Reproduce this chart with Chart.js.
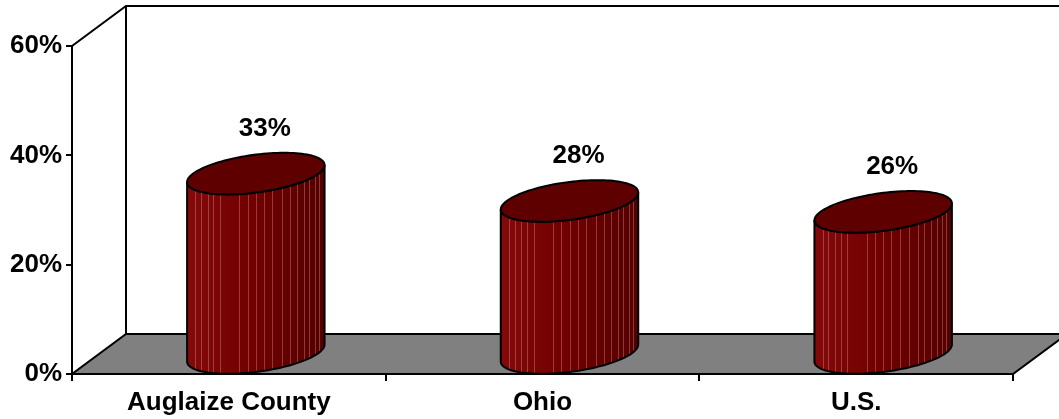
<!DOCTYPE html>
<html lang="en">
<head>
    <meta charset="UTF-8">
    <title>Cylinder chart</title>
    <script src="https://cdn.jsdelivr.net/npm/chart.js"></script>
    <style>
        html, body {
            margin: 0;
            padding: 0;
            background: #fff;
        }
        #chart {
            display: block;
        }
    </style>
</head>
<body>
    <canvas id="chart" width="1059" height="419"></canvas>

    <script>
        // data
        const categories = ['Auglaize County', 'Ohio', 'U.S.'];
        const values = [33, 28, 26];
        const yTicks = [0, 20, 40, 60];

        // 3D look: depth offset of the back wall, in pixels
        const DX = 54;
        const DY = -40;
        const DEPTH_R = 0.52;   // cylinder radius along depth, as part of full depth
        const stripes = [0.06, 0.1, 0.15, 0.19, 0.24, 0.38, 0.44, 0.5, 0.56, 0.62, 0.69, 0.75, 0.8, 0.85, 0.89, 0.93, 0.96];

        Chart.defaults.font.family = '"Liberation Sans", Arial, sans-serif';
        Chart.defaults.color = '#000';

        const boxPlugin = {
            id: 'box3d',
            beforeDraw(chart) {
                const { left, right, top, bottom } = chart.chartArea;
                const ctx = chart.ctx;
                ctx.save();
                ctx.lineWidth = 2;
                ctx.strokeStyle = '#000';
                // floor
                ctx.beginPath();
                ctx.moveTo(left, bottom);
                ctx.lineTo(right, bottom);
                ctx.lineTo(right + DX, bottom + DY);
                ctx.lineTo(left + DX, bottom + DY);
                ctx.closePath();
                ctx.fillStyle = '#808080';
                ctx.fill();
                ctx.stroke();
                // walls
                ctx.beginPath();
                ctx.moveTo(left, top);
                ctx.lineTo(left + DX, top + DY);
                ctx.lineTo(right + DX, top + DY);
                ctx.moveTo(left + DX, top + DY);
                ctx.lineTo(left + DX, bottom + DY);
                ctx.stroke();
                ctx.restore();
            },
            afterDatasetsDraw(chart) {
                const ctx = chart.ctx;
                const meta = chart.getDatasetMeta(0);
                meta.data.forEach((bar, i) => {
                    const a = bar.width / 2;
                    const p = DX * DEPTH_R;
                    const q = DY * DEPTH_R;
                    const cx = bar.x + DX / 2;
                    const cyTop = bar.y + DY / 2;
                    const cyBot = bar.base + DY / 2;
                    const t0 = Math.atan2(p, a);
                    const W = Math.sqrt(a * a + p * p);
                    const pt = (cy, t) => [cx + a * Math.cos(t) + p * Math.sin(t), cy + q * Math.sin(t)];
                    const N = 60;

                    // side of the cylinder
                    const side = new Path2D();
                    for (let k = 0; k <= N; k++) {
                        const [x, y] = pt(cyBot, t0 + Math.PI + Math.PI * k / N);
                        if (k === 0) side.moveTo(x, y); else side.lineTo(x, y);
                    }
                    for (let k = N; k >= 0; k--) {
                        const [x, y] = pt(cyTop, t0 + Math.PI + Math.PI * k / N);
                        side.lineTo(x, y);
                    }
                    side.closePath();

                    ctx.save();
                    const grad = ctx.createLinearGradient(cx - W, 0, cx + W, 0);
                    grad.addColorStop(0, '#840a0a');
                    grad.addColorStop(0.45, '#720000');
                    grad.addColorStop(1, '#540000');
                    ctx.fillStyle = grad;
                    ctx.fill(side);
                    ctx.save();
                    ctx.clip(side);
                    ctx.strokeStyle = 'rgba(255, 190, 190, 0.3)';
                    ctx.lineWidth = 1;
                    stripes.forEach(f => {
                        const sx = Math.round(cx - W + 2 * W * f) + 0.5;
                        ctx.beginPath();
                        ctx.moveTo(sx, cyTop - 40);
                        ctx.lineTo(sx, cyBot + 40);
                        ctx.stroke();
                    });
                    ctx.restore();
                    ctx.lineWidth = 2;
                    ctx.strokeStyle = '#000';
                    ctx.stroke(side);

                    // top of the cylinder
                    const topPath = new Path2D();
                    for (let k = 0; k <= N * 2; k++) {
                        const [x, y] = pt(cyTop, Math.PI * k / N);
                        if (k === 0) topPath.moveTo(x, y); else topPath.lineTo(x, y);
                    }
                    topPath.closePath();
                    ctx.fillStyle = '#5e0000';
                    ctx.fill(topPath);
                    ctx.stroke(topPath);

                    // value label
                    ctx.fillStyle = '#000';
                    ctx.font = 'bold 26px "Liberation Sans", Arial, sans-serif';
                    ctx.textAlign = 'center';
                    ctx.textBaseline = 'middle';
                    ctx.fillText(values[i] + '%', cx + 9, cyTop - 45);
                    ctx.restore();
                });
            }
        };

        const chart = new Chart(document.getElementById('chart'), {
            type: 'bar',
            data: {
                labels: categories,
                datasets: [{
                    data: values,
                    backgroundColor: 'rgba(0,0,0,0)',
                    borderWidth: 0,
                    barPercentage: 0.4,
                    categoryPercentage: 1
                }]
            },
            options: {
                responsive: false,
                animation: false,
                devicePixelRatio: 1,
                layout: {
                    padding: { top: 46, right: 46, left: 0, bottom: 0 }
                },
                plugins: {
                    legend: { display: false },
                    tooltip: { enabled: false }
                },
                scales: {
                    x: {
                        grid: {
                            drawOnChartArea: false,
                            drawTicks: true,
                            tickLength: 7,
                            color: '#000',
                            lineWidth: 2,
                            offset: true
                        },
                        border: { display: true, color: '#000', width: 2 },
                        ticks: {
                            color: '#000',
                            font: { size: 26, weight: 'bold' },
                            padding: 6,
                            maxRotation: 0
                        },
                        afterFit(scale) { scale.height = 45; }
                    },
                    y: {
                        min: yTicks[0],
                        max: yTicks[yTicks.length - 1],
                        afterBuildTicks(scale) {
                            scale.ticks = yTicks.map(v => ({ value: v }));
                        },
                        grid: {
                            drawOnChartArea: false,
                            drawTicks: true,
                            tickLength: 6,
                            color: '#000',
                            lineWidth: 2
                        },
                        border: { display: true, color: '#000', width: 2 },
                        ticks: {
                            color: '#000',
                            font: { size: 26, weight: 'bold' },
                            padding: 4,
                            callback: v => v + '%'
                        },
                        afterFit(scale) { scale.width = 72; }
                    }
                }
            },
            plugins: [boxPlugin]
        });
    </script>
</body>
</html>
